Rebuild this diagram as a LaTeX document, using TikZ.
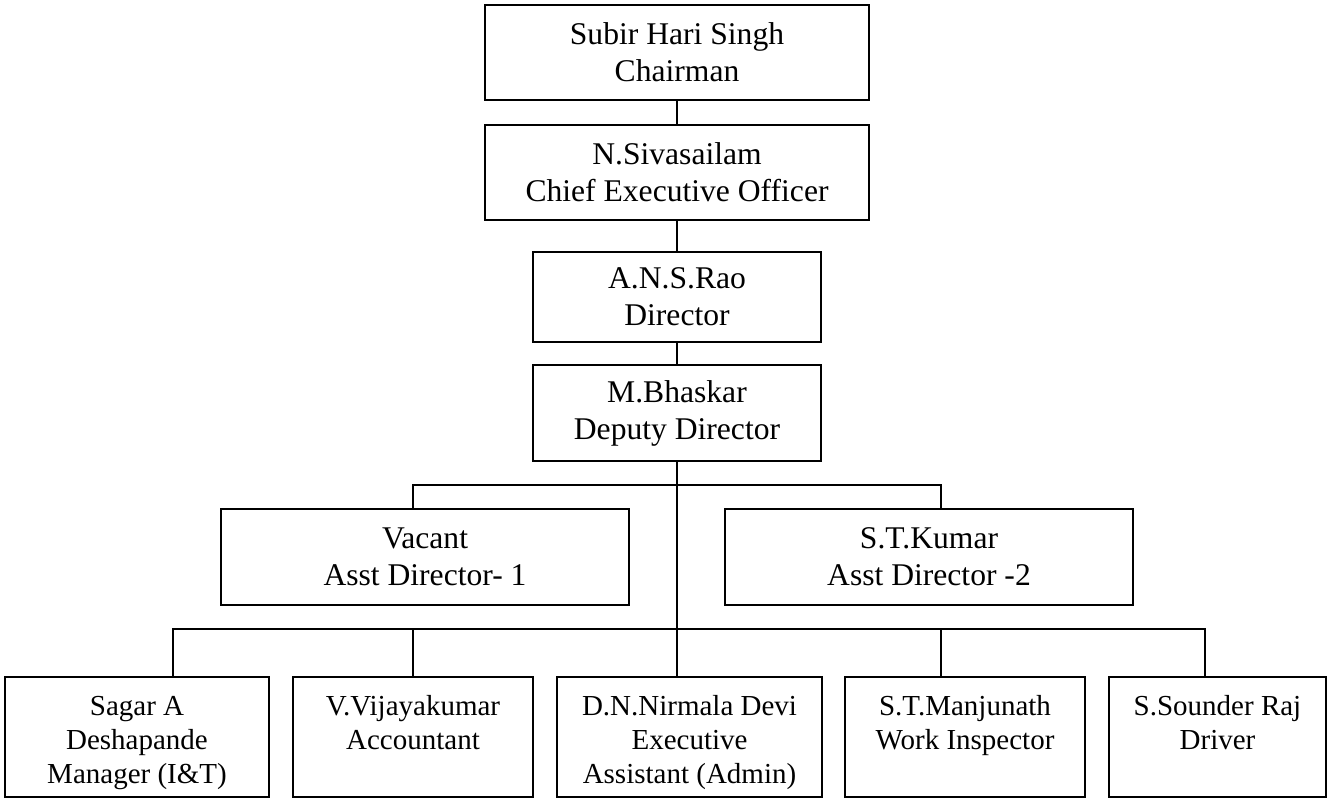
\documentclass[tikz,border=0pt]{standalone}
\usepackage{fontspec}
\setmainfont{Liberation Serif}
\usepackage{tikz}
\usetikzlibrary{shapes.geometric, arrows}
\tikzset{
  font={\fontsize{15.8pt}{18.5pt}\selectfont}}
\tikzset{
  post/.style={draw, shape=rectangle, line width=0.9pt, align=center},
  staff/.style={post, minimum height=60pt, inner ysep=0pt,
    text height=53pt, text depth=7pt,
    font={\fontsize{14.5pt}{17pt}\selectfont}}}

\begin{document}
\begin{tikzpicture}[x=0.5pt, y=-0.5pt]
  \useasboundingbox (0,0) rectangle (1336,798);
  \node (ch) [post, minimum height=47.5pt, minimum width=192pt] at (677,52.5) {Subir Hari Singh\\Chairman};
  \node (ceo) [post, minimum height=47.5pt, minimum width=192pt] at (677,172.5) {N.Sivasailam\\Chief Executive Officer};
  \node (dir) [post, minimum height=45pt, minimum width=144pt] at (677,297) {A.N.S.Rao\\Director};
  \node (dd) [post, minimum height=48pt, minimum width=144pt] at (677,413) {M.Bhaskar\\Deputy Director};
  \node (ad1) [post, minimum height=48pt, minimum width=204pt] at (425,557) {Vacant\\Asst Director- 1};
  \node (ad2) [post, minimum height=48pt, minimum width=204pt] at (929,557) {S.T.Kumar\\Asst Director -2};
  \node (mgr) [staff, minimum width=132pt] at (137,737) {Sagar A\\Deshapande\\Manager (I\&T)};
  \node (acc) [staff, minimum width=120pt] at (413,737) {V.Vijayakumar\\Accountant\\\strut};
  \node (ea) [staff, minimum width=132.5pt] at (689.5,737) {D.N.Nirmala Devi\\Executive\\Assistant (Admin)};
  \node (wi) [staff, minimum width=120pt] at (965,737) {S.T.Manjunath\\Work Inspector\\\strut};
  \node (drv) [staff, minimum width=108.5pt] at (1217.5,737) {S.Sounder Raj\\Driver\\\strut};
  \coordinate (j1) at (677,485);
  \coordinate (j2) at (677,629);
  \draw[-, line width=0.9pt] (ch) -- (ceo);
  \draw[-, line width=0.9pt] (ceo) -- (dir);
  \draw[-, line width=0.9pt] (dir) -- (dd);
  \draw[-, line width=0.9pt] (dd.south) -- ([xshift=-6.25pt]ea.north);
  \draw[-, line width=0.9pt] ([xshift=-6pt]ad1.north) |- (j1) -| ([xshift=6pt]ad2.north);
  \draw[-, line width=0.9pt] ([xshift=18pt]mgr.north) |- (j2) -| ([xshift=-6.25pt]drv.north);
  \draw[-, line width=0.9pt] (acc.north) |- (j2);
  \draw[-, line width=0.9pt] ([xshift=-12pt]wi.north) |- (j2);
\end{tikzpicture}
\end{document}
